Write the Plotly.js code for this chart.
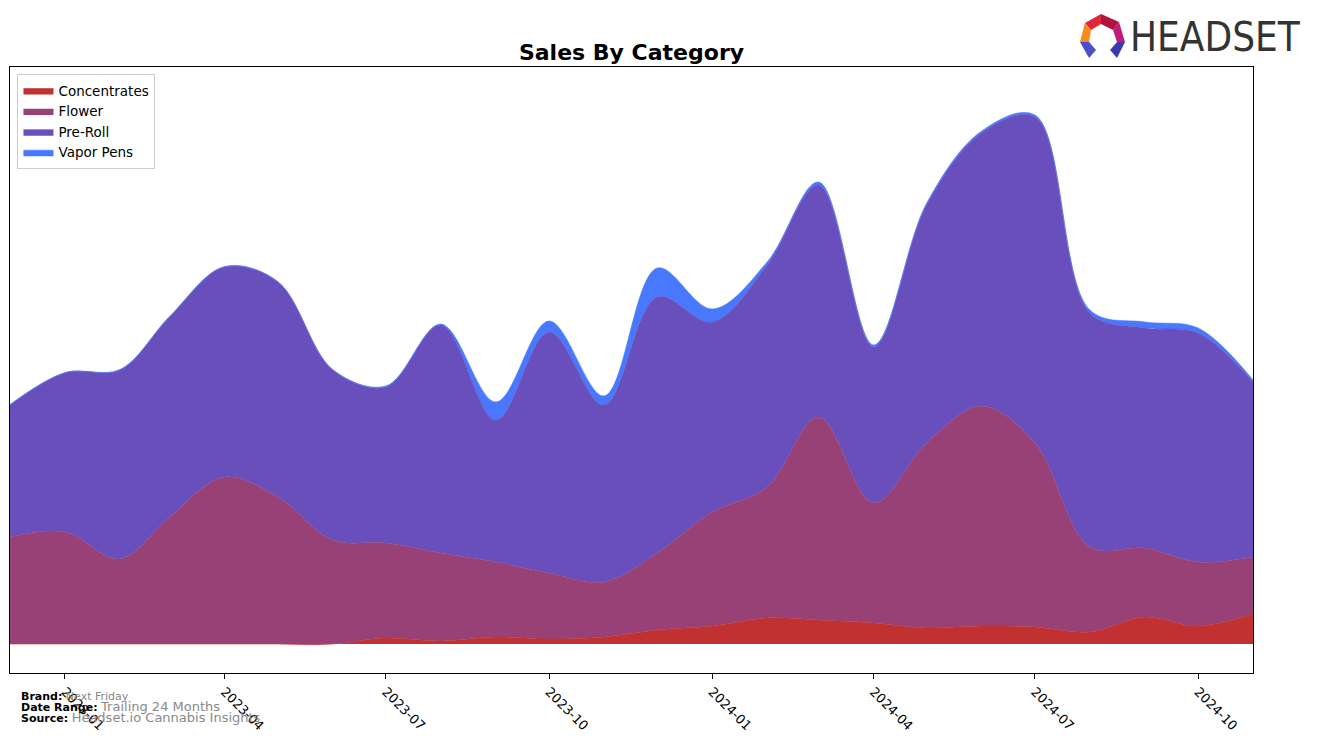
<!DOCTYPE html>
<html>
<head>
<meta charset="utf-8">
<script src="https://cdn.plot.ly/plotly-3.0.1.min.js"></script>
<style>html,body{margin:0;padding:0;background:#fff;}#chart{width:1317px;height:743px;}</style>
</head>
<body>
<div id="chart"></div>
<script>
const months = ['2022-12-01','2023-01-01','2023-02-01','2023-03-01','2023-04-01','2023-05-01','2023-06-01','2023-07-01','2023-08-01','2023-09-01','2023-10-01','2023-11-01','2023-12-01','2024-01-01','2024-02-01','2024-03-01','2024-04-01','2024-05-01','2024-06-01','2024-07-01','2024-08-01','2024-09-01','2024-10-01','2024-11-01'];
const concentrates = [0,0,0,0,0,0,0,6,3,7,5,7,14,18,26,24,21,16,18,17,12,27,18,30];
const flower = [107,112,85,127,167,147,104,95,88,75,66,55,77,114,131,203,120,185,220,184,85,69,64,57];
const preRoll = [132,159,189,200,210,215,170,156,228,142,241,177,256,190,222,232,156,238,273,326,234,220,229,175];
const vaporPens = [0.5,0.5,0.5,0.5,0.5,0.5,0.5,1,1,18,11,9,29,13,3,3,2,2,2,2,3,6,5,2];
const tickVals = ['2023-01-01','2023-04-01','2023-07-01','2023-10-01','2024-01-01','2024-04-01','2024-07-01','2024-10-01'];
const tickText = ['2023-01','2023-04','2023-07','2023-10','2024-01','2024-04','2024-07','2024-10'];

const series = [
  {name:'Concentrates', y:concentrates, color:'#c23131'},
  {name:'Flower', y:flower, color:'#974177'},
  {name:'Pre-Roll', y:preRoll, color:'#694fbc'},
  {name:'Vapor Pens', y:vaporPens, color:'#4878fe'}
];
const traces = series.map(s => ({
  type:'scatter', mode:'lines', name:s.name, x:months, y:s.y,
  stackgroup:'one', line:{shape:'spline', smoothing:1, width:0.6, color:s.color},
  fillcolor:s.color, hoverinfo:'x+y+name'
}));

// pixel -> paper helpers for decorations
const L=10, R=1253, T=67, B=673;
const px = v => (v-L)/(R-L);
const py = v => (B-v)/(B-T);
function poly(pts, color){
  let d = pts.map((p,i)=>(i?'L':'M')+px(p[0]).toFixed(4)+','+py(p[1]).toFixed(4)).join(' ')+' Z';
  return {type:'path', xref:'paper', yref:'paper', path:d, fillcolor:color, line:{width:0}, layer:'above'};
}
const shapes = [
  poly([[1085,23],[1101,14],[1101,24],[1091,30]], '#e0283a'),
  poly([[1101,14],[1119,22],[1113,30],[1101,24]], '#b0143c'),
  poly([[1119,22],[1125,42],[1117,42],[1113,30]], '#c01a7a'),
  poly([[1085,23],[1091,30],[1089,42],[1080,42]], '#f58a1f'),
  poly([[1080,42],[1089,42],[1096,50],[1089,58]], '#4b4fc8'),
  poly([[1125,42],[1117,42],[1110,50],[1117,58]], '#3a3ab0')
];

const layout = {
  width:1317, height:743,
  margin:{l:10, r:64, t:67, b:70},
  paper_bgcolor:'#fff', plot_bgcolor:'#fff',
  font:{family:'DejaVu Sans', size:13, color:'#000'},
  title:{text:'<b>Sales By Category</b>', x:0.4795, xanchor:'center', y:0.929, yanchor:'middle', font:{family:'DejaVu Sans', size:22, color:'#000'}},
  showlegend:true,
  legend:{x:0.006, y:0.988, xanchor:'left', yanchor:'top', traceorder:'normal', bgcolor:'#fff', bordercolor:'#cccccc', borderwidth:1, font:{size:13.5}, tracegroupgap:0},
  xaxis:{type:'date', range:['2022-12-01','2024-11-01'], tickvals:tickVals, ticktext:tickText, tickangle:45,
    ticks:'outside', ticklen:5, tickcolor:'#000', showgrid:false, zeroline:false,
    showline:true, mirror:true, linecolor:'#000', linewidth:1, tickfont:{size:13}},
  yaxis:{range:[-29,577], showticklabels:false, ticks:'', showgrid:false, zeroline:false,
    showline:true, mirror:true, linecolor:'#000', linewidth:1},
  shapes:shapes,
  annotations:[
    {xref:'paper', yref:'paper', x:px(1303), y:py(37), xanchor:'right', yanchor:'middle', text:'HEADSET', showarrow:false,
     font:{family:'DejaVu Sans Condensed, DejaVu Sans', size:40, color:'#333333'}},
    {xref:'paper', yref:'paper', x:px(19), y:py(696), xanchor:'left', yanchor:'middle', showarrow:false,
     text:'<b>Brand:</b> <span style="color:#888">Next Friday</span>', font:{size:11}},
    {xref:'paper', yref:'paper', x:px(19), y:py(707), xanchor:'left', yanchor:'middle', showarrow:false,
     text:'<b>Date Range:</b> <span style="color:#888;font-size:13px">Trailing 24 Months</span>', font:{size:11}},
    {xref:'paper', yref:'paper', x:px(19), y:py(717), xanchor:'left', yanchor:'middle', showarrow:false,
     text:'<b>Source:</b> <span style="color:#888;font-size:13px">Headset.io Cannabis Insights</span>', font:{size:11}}
  ]
};
Plotly.newPlot('chart', traces, layout, {displayModeBar:false, staticPlot:true});
</script>
</body>
</html>
